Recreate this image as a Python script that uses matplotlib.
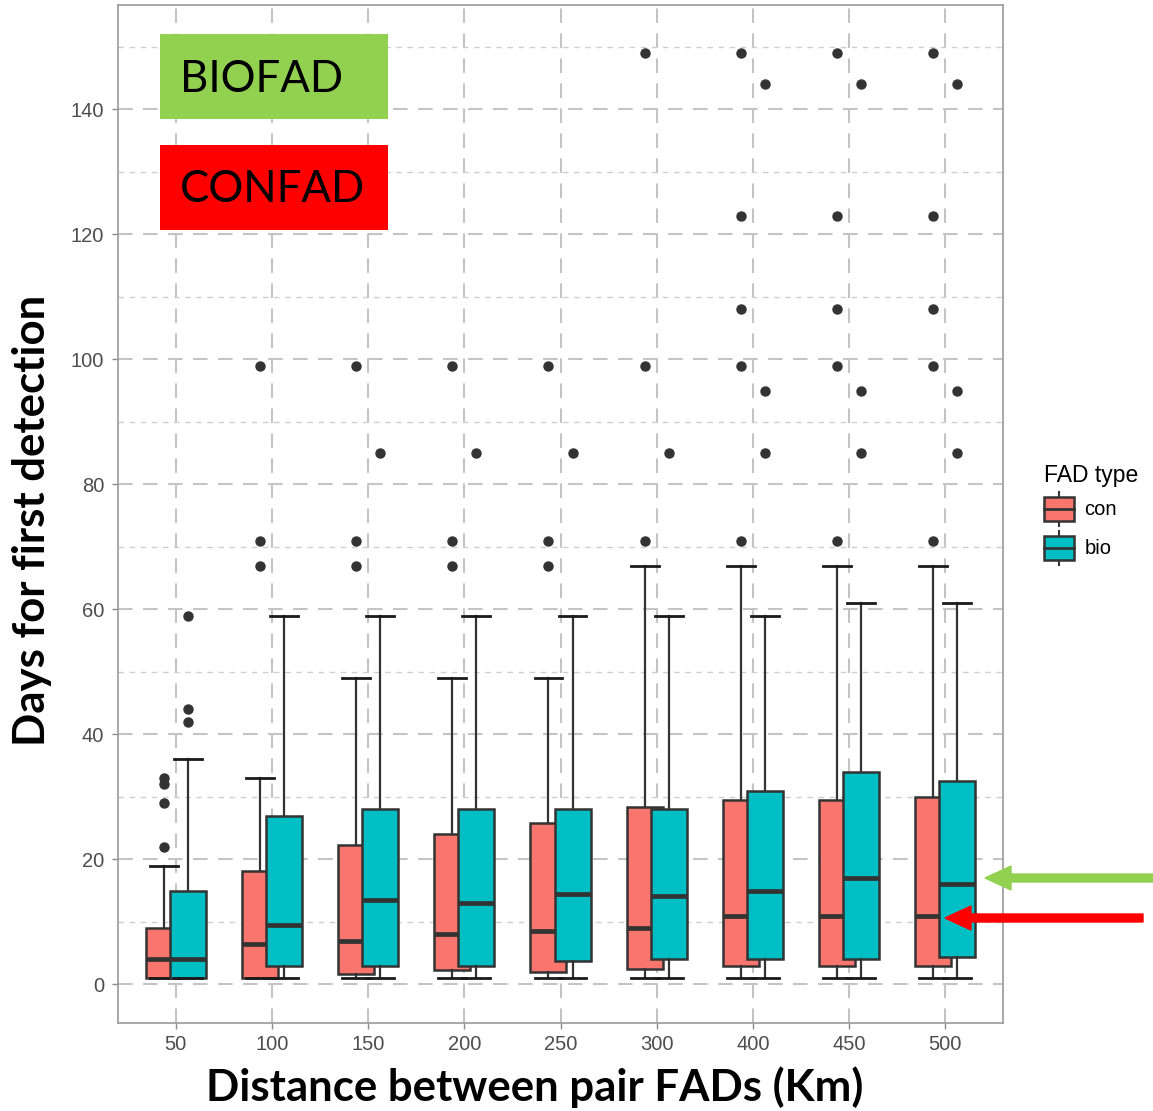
import matplotlib
matplotlib.use("Agg")
import matplotlib.pyplot as plt
from matplotlib.patches import Rectangle, FancyArrow, Patch
from matplotlib.legend_handler import HandlerBase
from matplotlib.lines import Line2D
import numpy as np

# ---------------- data ----------------
categories = ["50", "100", "150", "200", "250", "300", "400", "450", "500"]

con_q1 = [1, 1, 1.7, 2.3, 2, 2.4, 3, 3, 3]
con_med = [4, 6.5, 7, 8, 8.5, 9, 11, 11, 11]
con_q3 = [9, 18.2, 22.3, 24, 25.8, 28.4, 29.5, 29.5, 30]
con_lo = [1, 1, 1, 1, 1, 1, 1, 1, 1]
con_hi = [19, 33, 49, 49, 49, 67, 67, 67, 67]
con_out = [
    [22, 29, 32, 33],
    [67, 71, 99],
    [67, 71, 99],
    [67, 71, 99],
    [67, 71, 99],
    [71, 99, 149],
    [71, 99, 108, 123, 149],
    [71, 99, 108, 123, 149],
    [71, 99, 108, 123, 149],
]

bio_q1 = [1, 3, 3, 3, 3.8, 4, 4, 4, 4.4]
bio_med = [4, 9.5, 13.5, 13, 14.4, 14.1, 15, 17, 16]
bio_q3 = [15, 27, 28, 28, 28, 28, 31, 34, 32.5]
bio_lo = [1, 1, 1, 1, 1, 1, 1, 1, 1]
bio_hi = [36, 59, 59, 59, 59, 59, 59, 61, 61]
bio_out = [
    [42, 44, 59],
    [],
    [85],
    [85],
    [85],
    [85],
    [85, 95, 144],
    [85, 95, 144],
    [85, 95, 144],
]

series_names = ["con", "bio"]
con_color = "#F8766D"
bio_color = "#00BFC4"

# ---------------- figure ----------------
W, H = 1153, 1111
plt.rcParams["font.family"] = ["Liberation Sans", "DejaVu Sans"]
fig = plt.figure(figsize=(W / 100, H / 100), dpi=100)
ax = fig.add_axes([118 / W, 1 - 1023 / H, (1003 - 118) / W, (1023 - 5) / H])

n = len(categories)
idx = np.arange(n)
off = 0.125
bw = 0.374
cw = 0.29
edge = "#333333"


def stats(q1, med, q3, lo, hi, out):
    return [dict(q1=a, med=b, q3=c, whislo=d, whishi=e, fliers=f)
            for a, b, c, d, e, f in zip(q1, med, q3, lo, hi, out)]


for st, pos, col, z in [
    (stats(con_q1, con_med, con_q3, con_lo, con_hi, con_out), idx - off, con_color, 3),
    (stats(bio_q1, bio_med, bio_q3, bio_lo, bio_hi, bio_out), idx + off, bio_color, 4),
]:
    ax.bxp(st, positions=pos, widths=bw, capwidths=cw, patch_artist=True,
           showfliers=True, manage_ticks=False, zorder=z,
           boxprops=dict(facecolor=col, edgecolor=edge, linewidth=1.8),
           medianprops=dict(color=edge, linewidth=3.4, solid_capstyle="butt"),
           whiskerprops=dict(color=edge, linewidth=1.6),
           capprops=dict(color="#1a1a1a", linewidth=2.0),
           flierprops=dict(marker="o", markerfacecolor=edge, markeredgecolor=edge,
                           markersize=6.5, linestyle="none"))

ax.set_xlim(-0.6, n - 1 + 0.6)
ax.set_ylim(-6.2, 156.7)
ax.set_xticks(idx)
ax.set_xticklabels(categories)
ax.set_yticks(np.arange(0, 141, 20))
ax.set_yticks(np.arange(10, 151, 20), minor=True)

ax.grid(True, which="major", axis="both", color="#C4C4C4", linestyle=(0, (7, 5)), linewidth=1.5, zorder=0)
ax.grid(True, which="minor", axis="y", color="#CFCFCF", linestyle=(0, (4, 4)), linewidth=1.0, zorder=0)
ax.set_axisbelow(True)

for s in ax.spines.values():
    s.set_color("#9A9A9A")
    s.set_linewidth(1.2)

ax.tick_params(axis="both", which="major", labelsize=14.5, labelcolor="#4D4D4D",
               color="#8A8A8A", length=4, width=1)
ax.tick_params(axis="y", which="minor", length=0)
ax.tick_params(axis="x", pad=5)
ax.tick_params(axis="y", pad=6)

ax.set_ylabel("Days for first detection", fontsize=31.5, fontweight="bold",
              family=["Lato", "DejaVu Sans"])
ax.yaxis.set_label_coords((52 - 118) / 885, (1023 - 520) / 1018)
ax.set_xlabel("Distance between pair FADs (Km)", fontsize=31.5, fontweight="bold",
              family=["Lato", "DejaVu Sans"])
ax.xaxis.set_label_coords((534.5 - 118) / 885, (1023 - 1066) / 1018)


# ---------------- legend ----------------
class BoxHandler(HandlerBase):
    def create_artists(self, legend, orig_handle, xdescent, ydescent, width, height,
                       fontsize, trans):
        fc = orig_handle.get_facecolor()
        x0, y0 = -xdescent, -ydescent
        r = Rectangle((x0, y0 + 0.15 * height), width, 0.70 * height, facecolor=fc,
                      edgecolor=edge, linewidth=1.8, transform=trans)
        m = Line2D([x0, x0 + width], [y0 + 0.5 * height] * 2, color=edge, linewidth=2, transform=trans)
        w1 = Line2D([x0 + width / 2] * 2, [y0, y0 + 0.15 * height], color=edge, linewidth=1.5, transform=trans)
        w2 = Line2D([x0 + width / 2] * 2, [y0 + 0.85 * height, y0 + height], color=edge, linewidth=1.5, transform=trans)
        return [w1, w2, r, m]


handles = [Patch(facecolor=con_color), Patch(facecolor=bio_color)]
leg = fig.legend(handles, series_names, handler_map={Patch: BoxHandler()},
                 loc="upper left", bbox_to_anchor=(1040 / W, 1 - 460 / H),
                 frameon=False, title="FAD type", fontsize=14.5, title_fontsize=16.5,
                 handlelength=1.5, handleheight=2.2, labelspacing=0.25,
                 handletextpad=0.5, borderaxespad=0, borderpad=0.2)
leg._legend_box.align = "left"

# ---------------- annotations ----------------
fig.patches.append(Rectangle((160 / W, 1 - 119 / H), 228 / W, 85 / H,
                             facecolor="#92D050", edgecolor="none", transform=fig.transFigure))
fig.patches.append(Rectangle((160 / W, 1 - 230 / H), 228 / W, 85 / H,
                             facecolor="#FF0000", edgecolor="none", transform=fig.transFigure))
fig.text(180 / W, 1 - 79 / H, "BIOFAD", fontsize=31.5, family=["Lato", "DejaVu Sans"],
         va="center", ha="left", color="black")
fig.text(180 / W, 1 - 190 / H, "CONFAD", fontsize=31.5, family=["Lato", "DejaVu Sans"],
         va="center", ha="left", color="black")

fig.patches.append(FancyArrow(1153 / W, 1 - 878 / H, (985 - 1153) / W, 0,
                              width=8 / H, head_width=24 / H, head_length=26 / W,
                              length_includes_head=True, color="#92D050",
                              transform=fig.transFigure))
fig.patches.append(FancyArrow(1143 / W, 1 - 918 / H, (945 - 1143) / W, 0,
                              width=8 / H, head_width=24 / H, head_length=26 / W,
                              length_includes_head=True, color="#FF0000",
                              transform=fig.transFigure))

fig.savefig("out.png", dpi=100)
